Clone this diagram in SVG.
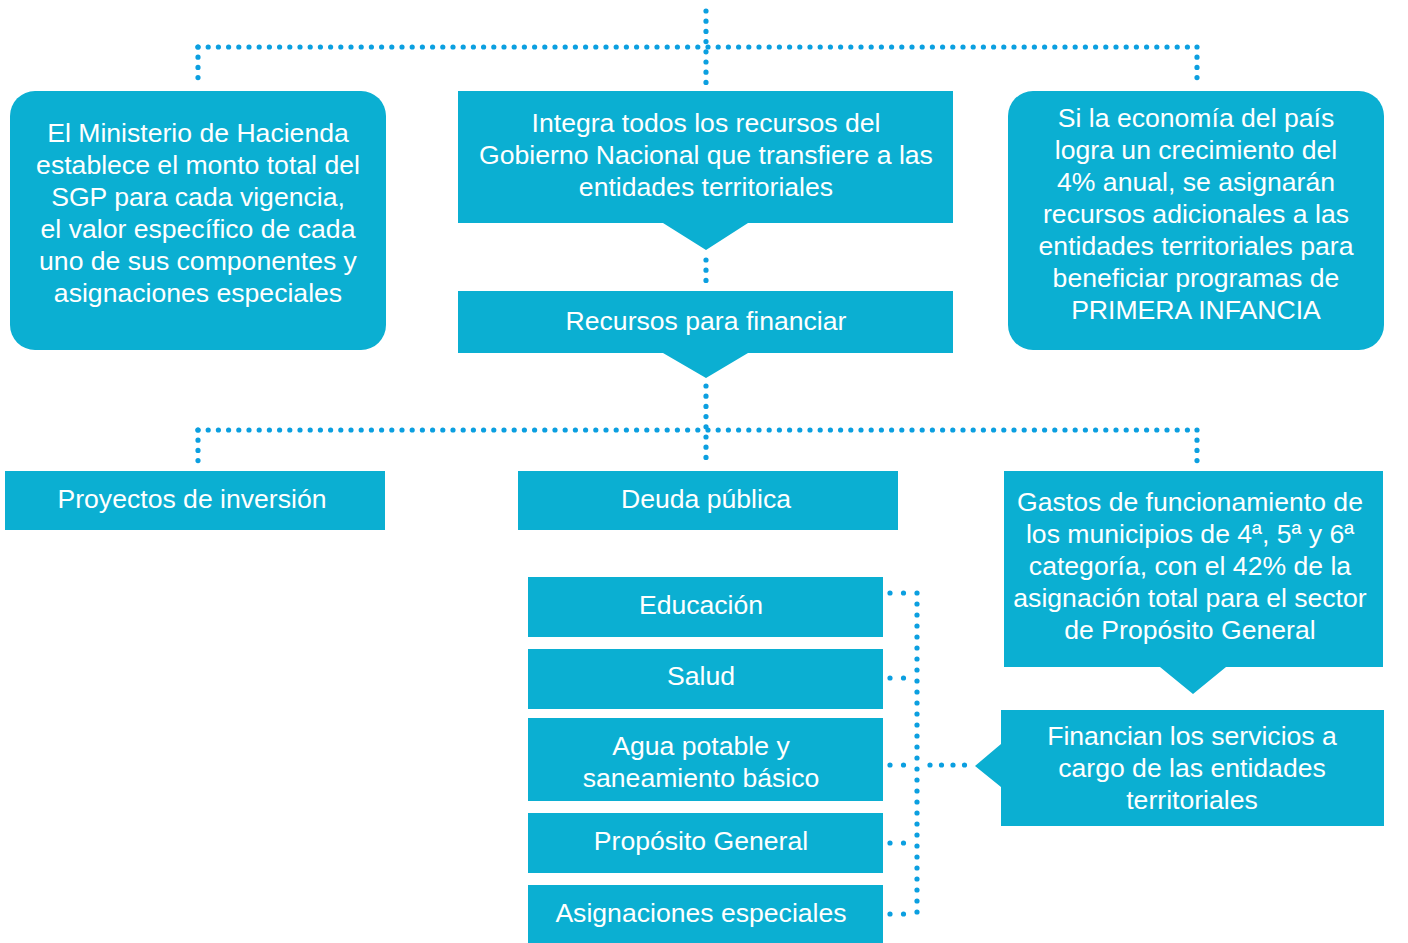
<svg xmlns="http://www.w3.org/2000/svg" width="1408" height="943" viewBox="0 0 1408 943">
<style>
.box{fill:#0bafd2}
.t{font-family:"Liberation Sans",Arial,sans-serif;font-size:26.6px;fill:#fff;text-anchor:middle}
.dot{fill:none;stroke:#0b9fe0;stroke-width:5.2;stroke-linecap:round;stroke-dasharray:0 10.2}
</style>
<rect width="1408" height="943" fill="#fff"/>
<g id="connectors">
<path class="dot" d="M706 11V84"/>
<path class="dot" d="M198 47H1197"/>
<path class="dot" d="M198 47V84"/>
<path class="dot" d="M1197 47V84"/>
<path class="dot" d="M706 260V284"/>
<path class="dot" d="M706 386V464"/>
<path class="dot" d="M198 430H1197"/>
<path class="dot" d="M198 430V464"/>
<path class="dot" d="M1197 430V464"/>
<path class="dot" style="stroke-dasharray:0 11" d="M917 593V914"/>
<path class="dot" style="stroke-dasharray:0 13.5" d="M890 593H917"/>
<path class="dot" style="stroke-dasharray:0 13.5" d="M890 678H917"/>
<path class="dot" style="stroke-dasharray:0 13.5" d="M890 765H917"/>
<path class="dot" style="stroke-dasharray:0 13.5" d="M890 843H917"/>
<path class="dot" style="stroke-dasharray:0 13.5" d="M890 914H917"/>
<path class="dot" style="stroke-dasharray:0 11.5" d="M930 765H965"/>
</g>
<g id="n1"><rect class="box" x="10" y="91" width="376" height="259" rx="25"/>
<text class="t"><tspan x="198" y="142">El Ministerio de Hacienda</tspan><tspan x="198" y="174">establece el monto total del</tspan><tspan x="198" y="206">SGP para cada vigencia,</tspan><tspan x="198" y="238">el valor específico de cada</tspan><tspan x="198" y="270">uno de sus componentes y</tspan><tspan x="198" y="302">asignaciones especiales</tspan></text></g>
<g id="n2"><path class="box" d="M458 91H953V223H748L706 250L663 223H458Z"/>
<text class="t"><tspan x="706" y="132">Integra todos los recursos del</tspan><tspan x="706" y="164">Gobierno Nacional que transfiere a las</tspan><tspan x="706" y="196">entidades territoriales</tspan></text></g>
<g id="n3"><rect class="box" x="1008" y="91" width="376" height="259" rx="25"/>
<text class="t"><tspan x="1196" y="127">Si la economía del país</tspan><tspan x="1196" y="159">logra un crecimiento del</tspan><tspan x="1196" y="191">4% anual, se asignarán</tspan><tspan x="1196" y="223">recursos adicionales a las</tspan><tspan x="1196" y="255">entidades territoriales para</tspan><tspan x="1196" y="287">beneficiar programas de</tspan><tspan x="1196" y="319">PRIMERA INFANCIA</tspan></text></g>
<g id="n4"><path class="box" d="M458 291H953V353H748L706 378L663 353H458Z"/>
<text class="t" x="706" y="330">Recursos para financiar</text></g>
<g id="n5"><rect class="box" x="5" y="471" width="380" height="59"/>
<text class="t" x="192" y="508">Proyectos de inversión</text></g>
<g id="n6"><rect class="box" x="518" y="471" width="380" height="59"/>
<text class="t" x="706" y="508">Deuda pública</text></g>
<g id="n7"><path class="box" d="M1004 471H1383V667H1226L1193 694L1160 667H1004Z"/>
<text class="t"><tspan x="1190" y="511">Gastos de funcionamiento de</tspan><tspan x="1190" y="543">los municipios de 4ª, 5ª y 6ª</tspan><tspan x="1190" y="575">categoría, con el 42% de la</tspan><tspan x="1190" y="607">asignación total para el sector</tspan><tspan x="1190" y="639">de Propósito General</tspan></text></g>
<g id="n8"><path class="box" d="M1001 710H1384V826H1001V787L975 766L1001 744Z"/>
<text class="t"><tspan x="1192" y="745">Financian los servicios a</tspan><tspan x="1192" y="777">cargo de las entidades</tspan><tspan x="1192" y="809">territoriales</tspan></text></g>
<g id="n9"><rect class="box" x="528" y="577" width="355" height="60"/>
<text class="t" x="701" y="614">Educación</text></g>
<g id="n10"><rect class="box" x="528" y="649" width="355" height="60"/>
<text class="t" x="701" y="685">Salud</text></g>
<g id="n11"><rect class="box" x="528" y="718" width="355" height="83"/>
<text class="t"><tspan x="701" y="755">Agua potable y</tspan><tspan x="701" y="787">saneamiento básico</tspan></text></g>
<g id="n12"><rect class="box" x="528" y="813" width="355" height="60"/>
<text class="t" x="701" y="850">Propósito General</text></g>
<g id="n13"><rect class="box" x="528" y="885" width="355" height="58"/>
<text class="t" x="701" y="922">Asignaciones especiales</text></g>
</svg>
